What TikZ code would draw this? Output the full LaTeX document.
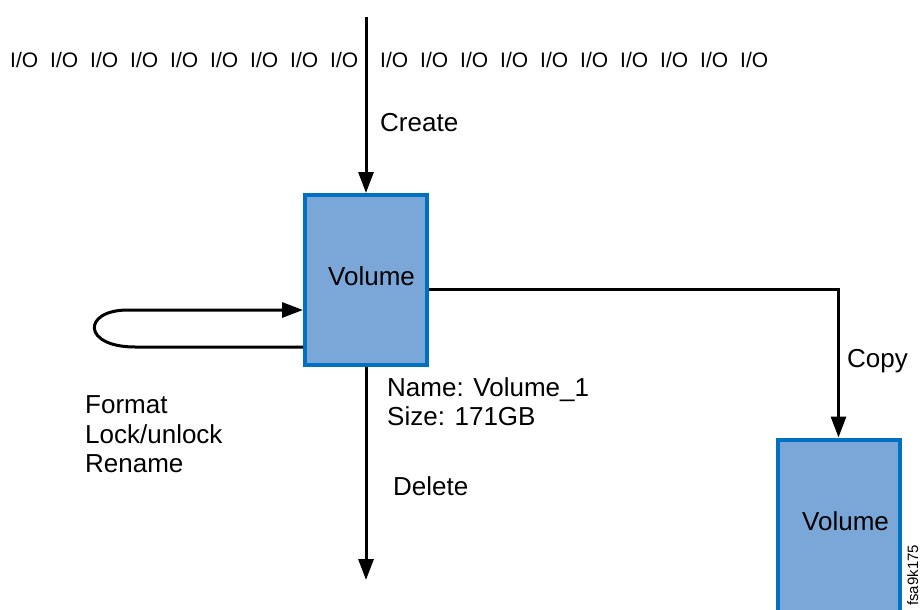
\documentclass[tikz,border=0pt]{standalone}
\usepackage{fontspec}
\setmainfont{Liberation Sans}
\usetikzlibrary{arrows.meta}
\definecolor{volfill}{HTML}{7BA7D8}
\definecolor{volline}{HTML}{0070C0}
\begin{document}
\begin{tikzpicture}[x=1pt,y=-1pt,
  vol/.style={draw=volline,line width=4pt,fill=volfill,inner sep=0pt,minimum width=122pt},
  conn/.style={line width=3pt,draw=black},
  arr/.style={conn,-{Triangle[width=15pt,length=21pt]}},
  lbl/.style={anchor=base west,inner sep=0pt,font=\fontsize{26}{29}\selectfont},
  io/.style={anchor=base west,inner sep=0pt,font=\fontsize{21}{24}\selectfont},
  tag/.style={anchor=base west,inner sep=0pt,rotate=90,font=\fontsize{15}{17}\selectfont}]
\useasboundingbox (0,0) rectangle (921,610);
\clip (0,0) rectangle (921,610);
% I/O row
\foreach \i in {0,...,8} \node[io] (iol\i) at (10+40*\i,67) {I/O};
\foreach \i in {0,...,9} \node[io] (ior\i) at (380+40*\i,67) {I/O};
% boxes
\node[vol,minimum height=170pt] (box1) at (366,280) {};
\node[vol,minimum height=200pt] (box2) at (838.5,539.5) {};
\node[lbl] (v1) at (328,285) {Volume};
\node[lbl] (v2) at (802,530) {Volume};
% create
\coordinate (top) at (366,17);
\draw[arr] (top) -- (box1.north);
\node[lbl] (create) at (380,131) {Create};
% delete
\coordinate (bot) at (366,580);
\draw[arr] (box1.south) -- (bot);
\node[lbl] (name) at (387,396) {Name: Volume\_1};
\node[lbl] (size) at (387,425) {Size: 171GB};
\node[lbl] (delete) at (393,495) {Delete};
% copy
\coordinate (cp) at (838.5,289);
\draw[arr] (box1.east |- cp) -- (cp) -- (box2.north);
\node[lbl] (copy) at (847,367) {Copy};
% loop
\coordinate (lb) at (135,347);
\coordinate (lt) at (128,310);
\draw[arr] (box1.west |- lb) -- (lb) .. controls (82,347) and (82,310) .. (lt) -- (box1.west |- lt);
\node[lbl] (fmt) at (85,413) {Format};
\node[lbl] (lock) at (85,443) {Lock/unlock};
\node[lbl] (ren) at (85,472) {Rename};
% tag
\node[tag] (fsa) at (918,606) {fsa9k175};
\end{tikzpicture}
\end{document}
